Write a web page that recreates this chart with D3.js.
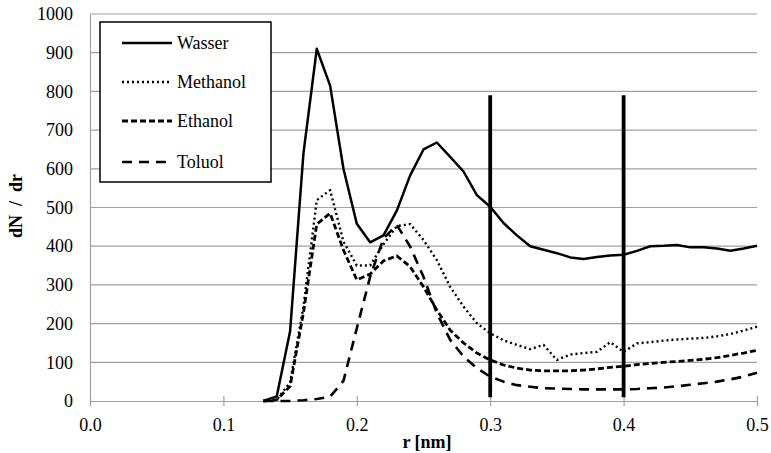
<!DOCTYPE html>
<html>
<head>
<meta charset="utf-8">
<script src="https://cdn.jsdelivr.net/npm/d3@7"></script>
<style>
  body { margin: 0; background: #fff; }
  svg, svg text { font-family: "Times New Roman", Times, Tinos, "Liberation Serif", "DejaVu Serif", "Noto Serif", serif; }
</style>
</head>
<body>
<svg id="drawing_region"></svg>
<script>
// r [nm] sampled every 0.01 from 0.13 to 0.50
const r_values = [0.13,0.14,0.15,0.16,0.17,0.18,0.19,0.20,0.21,0.22,0.23,0.24,0.25,0.26,0.27,0.28,0.29,0.30,0.31,0.32,0.33,0.34,0.35,0.36,0.37,0.38,0.39,0.40,0.41,0.42,0.43,0.44,0.45,0.46,0.47,0.48,0.49,0.50];

const wasser   = [0,12,180,640,910,815,600,458,410,428,492,583,650,668,631,593,532,502,460,428,400,391,382,371,367,372,376,378,388,400,401,403,397,397,394,388,394,401];
const methanol = [0,3,48,244,519,545,412,350,350,405,452,457,416,364,295,244,201,175,157,145,134,145,106,120,124,127,152,127,149,152,156,159,161,163,167,173,182,192];
const ethanol  = [0,3,38,228,457,485,390,313,328,362,375,347,295,235,183,150,124,106,93,85,80,78,78,78,80,83,87,90,94,97,100,102,105,108,112,118,124,131];
const toluol   = [0,0,0,2,5,11,52,188,321,420,455,399,321,227,158,115,85,63,50,41,37,33,32,31,30,30,30,30,31,33,35,38,42,46,50,56,63,73];

const series_names = ['Wasser', 'Methanol', 'Ethanol', 'Toluol'];
const series_values = [wasser, methanol, ethanol, toluol];

const x_ticks = [0.0, 0.1, 0.2, 0.3, 0.4, 0.5];
const y_ticks = [0, 100, 200, 300, 400, 500, 600, 700, 800, 900, 1000];

// vertical marker lines
const marker_r = [0.3, 0.4];
const marker_range = [10, 790];

const config = {
  parent: '#drawing_region',
  width: 771,
  height: 453,
  margin: { left: 90, right: 14, top: 14, bottom: 52 }
};

const styles = [
  { width: 2.5, dash: null },
  { width: 2.4, dash: '2,3' },
  { width: 2.8, dash: '6,3' },
  { width: 2.6, dash: '10,7' }
];

const svg = d3.select(config.parent)
  .attr('width', config.width)
  .attr('height', config.height);

const inner_w = config.width - config.margin.left - config.margin.right;
const inner_h = config.height - config.margin.top - config.margin.bottom;

const chart = svg.append('g')
  .attr('transform', `translate(${config.margin.left}, ${config.margin.top})`);

const x = d3.scaleLinear().domain([0, 0.5]).range([0, inner_w]);
const y = d3.scaleLinear().domain([0, 1000]).range([inner_h, 0]);

// horizontal gridlines
chart.selectAll('.grid')
  .data(y_ticks.filter(d => d > 0))
  .enter()
  .append('line')
  .attr('x1', 0).attr('x2', inner_w)
  .attr('y1', d => y(d)).attr('y2', d => y(d))
  .attr('stroke', '#a0a0a0')
  .attr('stroke-width', 1.2);

// y axis
const y_axis = chart.append('g')
  .call(d3.axisLeft(y).tickValues(y_ticks).tickSize(0).tickPadding(17).tickFormat(d3.format('d')));
y_axis.attr('font-family', null);
y_axis.select('.domain').attr('stroke', '#a0a0a0').attr('stroke-width', 1.2);
y_axis.selectAll('text')
  .attr('font-size', 18)
  .attr('fill', '#000');

// x axis
const x_axis = chart.append('g')
  .attr('transform', `translate(0, ${inner_h})`)
  .call(d3.axisBottom(x).tickValues(x_ticks).tickSize(5).tickSizeOuter(0).tickPadding(12).tickFormat(d3.format('.1f')));
x_axis.attr('font-family', null);
x_axis.select('.domain').attr('stroke', '#a0a0a0').attr('stroke-width', 1.2);
x_axis.selectAll('.tick line')
  .attr('stroke', '#a0a0a0')
  .attr('stroke-width', 1.2)
  .attr('y1', -5);
x_axis.selectAll('text')
  .attr('font-size', 18)
  .attr('fill', '#000');

// series
const line = d3.line()
  .x((d, i) => x(r_values[i]))
  .y(d => y(d));

chart.selectAll('.series')
  .data(series_values)
  .enter()
  .append('path')
  .attr('d', d => line(d))
  .attr('fill', 'none')
  .attr('stroke', '#000')
  .attr('stroke-width', (d, i) => styles[i].width)
  .attr('stroke-dasharray', (d, i) => styles[i].dash)
  .attr('stroke-linejoin', 'round');

// marker lines
chart.selectAll('.marker')
  .data(marker_r)
  .enter()
  .append('line')
  .attr('x1', d => x(d)).attr('x2', d => x(d))
  .attr('y1', y(marker_range[0])).attr('y2', y(marker_range[1]))
  .attr('stroke', '#000')
  .attr('stroke-width', 3.8);

// legend
const legend = svg.append('g').attr('transform', 'translate(100, 22)');
legend.append('rect')
  .attr('width', 171).attr('height', 160)
  .attr('fill', '#fff')
  .attr('stroke', '#000')
  .attr('stroke-width', 1.5);

const row_y = [21, 60, 99, 140];
const items = legend.selectAll('.item')
  .data(series_names)
  .enter()
  .append('g')
  .attr('transform', (d, i) => `translate(0, ${row_y[i]})`);
items.append('line')
  .attr('x1', 22).attr('x2', 72)
  .attr('stroke', '#000')
  .attr('stroke-width', (d, i) => styles[i].width)
  .attr('stroke-dasharray', (d, i) => styles[i].dash);
items.append('text')
  .attr('x', 77)
  .attr('dy', '0.35em')
  .attr('font-size', 18)
  .text(d => d);

// axis titles
svg.append('text')
  .attr('x', 427).attr('y', 448)
  .attr('text-anchor', 'middle')
  .attr('font-size', 18)
  .attr('font-weight', 'bold')
  .text('r [nm]');

svg.append('text')
  .attr('transform', 'translate(22, 206) rotate(-90)')
  .attr('text-anchor', 'middle')
  .attr('font-size', 18)
  .attr('font-weight', 'bold')
  .style('white-space', 'pre')
  .text('dN  /  dr');
</script>
</body>
</html>
